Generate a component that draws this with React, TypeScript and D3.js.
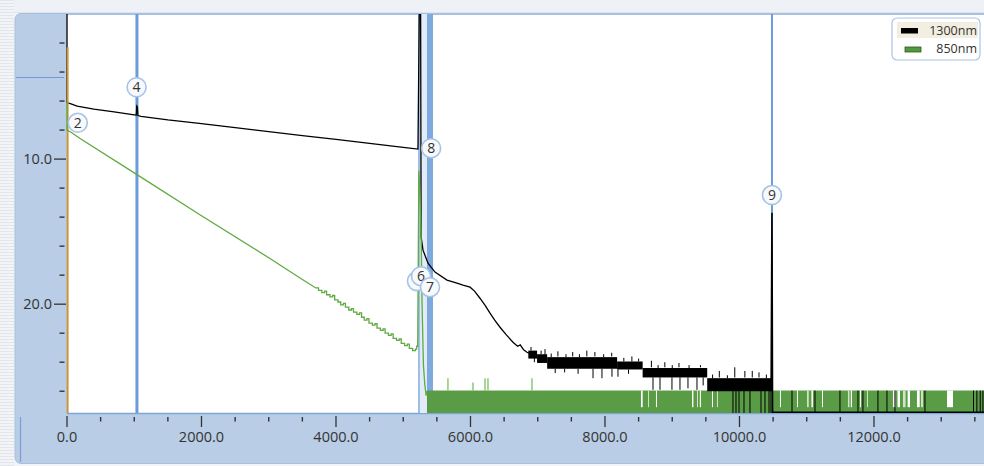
import React from "react";
import * as d3 from "d3";

// ---------- data (distance in m, loss in dB) ----------
const xMajorTicks = [0, 2000, 4000, 6000, 8000, 10000, 12000];
const xTickLabels = ["0.0", "2000.0", "4000.0", "6000.0", "8000.0", "10000.0", "12000.0"];
const yMajorTicks = [10, 20];
const yTickLabels = ["10.0", "20.0"];
const yMinorTicks = [2, 4, 6, 8, 12, 14, 16, 18, 22, 24, 26];

const seriesNames = ["1300nm", "850nm"];

// 1300nm trace (smooth part)
const trace1300: [number, number][] = [
  [0, 0], [0, 6.1], [60, 6.2], [150, 6.35], [400, 6.55], [700, 6.75], [1000, 6.95],
  [1030, 6.97], [1038, 6.35], [1046, 6.4], [1055, 7.0], [1100, 7.05], [1500, 7.3],
  [2000, 7.55], [2500, 7.83], [3000, 8.1], [3500, 8.38], [4000, 8.64], [4500, 8.92],
  [5000, 9.19], [5219, 9.31], [5240, -1], [5258, -1], [5266, 15.38], [5294, 16.28],
  [5368, 17.17], [5472, 17.79], [5651, 18.34], [5799, 18.55], [5888, 18.69], [5993, 18.83],
  [6060, 19.1], [6141, 19.59], [6220, 20.1], [6290, 20.62], [6360, 21.1], [6439, 21.59],
  [6530, 22.1], [6632, 22.62], [6700, 22.9], [6740, 22.8], [6790, 23.15], [6840, 23.31],
  [6920, 23.5], [6989, 23.59],
];
// 1300nm noise bands: [from, to, top dB, bottom dB]
const bands1300: [number, number, number, number][] = [
  [6860, 6990, 23.2, 23.75],
  [6990, 7140, 23.45, 24.05],
  [7140, 8180, 23.65, 24.45],
  [8180, 8560, 23.95, 24.5],
  [8560, 9520, 24.4, 25.05],
  [9520, 10483, 25.1, 26.0],
];
// 1300nm noise spikes: [distance, from dB, to dB]
const spikes1300: [number, number, number][] = [
  [6900, 23.2, 22.95], [6950, 23.4, 24.0], [7050, 23.45, 23.2], [7108, 23.6, 23.1],
  [7200, 23.65, 23.4], [7300, 23.6, 23.25], [7420, 23.65, 23.45], [7520, 23.6, 23.3],
  [7620, 23.65, 23.45], [7730, 23.6, 23.2], [7850, 23.6, 23.3], [7980, 23.65, 23.45],
  [8100, 23.6, 23.35], [8280, 23.95, 23.7], [8400, 23.95, 23.6], [8500, 23.95, 23.75],
  [8690, 24.35, 23.9], [8790, 24.4, 24.2], [8890, 24.35, 24.0], [9000, 24.4, 24.2],
  [9100, 24.35, 24.05], [9250, 24.4, 24.2], [9420, 24.35, 24.2], [9600, 25.1, 24.85],
  [9700, 25.05, 24.6], [9820, 25.1, 24.9], [9930, 25.05, 24.35], [10080, 25.05, 24.6],
  [10190, 25.05, 24.6], [10290, 25.05, 24.7], [10400, 25.1, 24.85],
  [7260, 24.45, 24.75], [7400, 24.45, 24.7], [7600, 24.45, 24.8],
  [7822, 24.45, 25.1], [7955, 24.45, 25.1], [8104, 24.45, 25.0], [8193, 24.5, 25.0],
  [8350, 24.5, 24.8], [8714, 25.05, 25.9], [8818, 25.05, 25.9], [8996, 25.05, 25.9],
  [9115, 25.05, 25.9], [9234, 25.05, 25.8], [9368, 25.05, 25.9], [9460, 25.05, 25.6],
];
// 1300nm end reflection and floor
const tail1300: [number, number][] = [
  [10470, 26.0], [10483, 13.7], [10492, 27.45], [13700, 27.45],
];
const floorLines1300 = [
  9903, 9948, 9993, 10067, 10156, 10320, 10379, 10439, 10468, 10781, 11123, 11494,
  11762, 11836, 12059, 12193, 12312, 12758, 13480, 13530, 13580, 13620,
];

// 850nm trace
const trace850: [number, number][] = [
  [0, 6.1], [0, 8.0], [60, 8.15], [200, 8.6], [1000, 10.95], [2000, 13.9], [3000, 16.8],
  [3500, 18.3], [3700, 18.88], [3740, 18.88], [3740, 19.05], [3790, 19.05], [3790, 19.2],
  [3830, 19.2], [3830, 19.1], [3860, 19.1], [3860, 19.35], [3910, 19.35], [3910, 19.5],
  [3950, 19.5], [3950, 19.4], [3980, 19.4], [3980, 19.7], [4030, 19.7], [4030, 19.85],
  [4070, 19.85], [4070, 20.05], [4110, 20.05], [4110, 19.95], [4140, 19.95], [4140, 20.2],
  [4190, 20.2], [4190, 20.4], [4230, 20.4], [4230, 20.3], [4260, 20.3], [4260, 20.55],
  [4310, 20.55], [4310, 20.7], [4350, 20.7], [4350, 20.6], [4380, 20.6], [4380, 20.9],
  [4420, 20.9], [4420, 21.1], [4460, 21.1], [4460, 21.0], [4490, 21.0], [4490, 21.3],
  [4540, 21.3], [4540, 21.45], [4580, 21.45], [4580, 21.35], [4610, 21.35], [4610, 21.65],
  [4660, 21.65], [4660, 21.8], [4700, 21.8], [4700, 21.7], [4730, 21.7], [4730, 22.0],
  [4780, 22.0], [4780, 22.15], [4820, 22.15], [4820, 22.05], [4850, 22.05], [4850, 22.35],
  [4900, 22.35], [4900, 22.5], [4940, 22.5], [4940, 22.4], [4970, 22.4], [4970, 22.7],
  [5020, 22.7], [5020, 22.85], [5060, 22.85], [5060, 22.75], [5090, 22.75], [5090, 23.05],
  [5140, 23.05], [5140, 23.2], [5180, 23.2], [5180, 23.1], [5200, 23.1], [5200, 22.9],
  [5215, 22.9], [5232, 10.8], [5250, 12.5], [5265, 15], [5280, 20], [5300, 24.2],
  [5320, 25.5], [5340, 26.3], [5353, 26.0],
];
const floor850: [number, number, number, number] = [5353, 13700, 25.95, 27.5];
const gaps850: [number, number][] = [
  [8535, 8560], [8640, 8650], [8758, 8770], [9294, 9315], [9368, 9380], [9410, 9428],
  [9591, 9605], [9665, 9680], [10602, 10615], [10855, 10868], [11004, 11030],
  [11070, 11093], [11227, 11240], [11613, 11635], [11655, 11673], [11792, 11805],
  [11896, 11910], [12282, 12320], [12350, 12387], [12431, 12470], [12500, 12535],
  [12639, 12680], [12700, 12729], [13086, 13175],
];
const spikes850: [number, number][] = [
  [5665, 25.1], [6037, 25.4], [6216, 25.1], [6260, 25.1], [6914, 25.1],
];

// cursors (distance)
const cursorOrange = 0;
const cursorThin = [1040, 10483];
const cursorHair = 5234;
const cursorWide = 5398;

// event markers
const markers = [
  { label: "2", d: 160, v: 7.5 },
  { label: "4", d: 1035, v: 5.05 },
  { label: "8", d: 5415, v: 9.25 },
  { label: "", d: 5204, v: 18.41 },
  { label: "6", d: 5264, v: 18.07 },
  { label: "7", d: 5398, v: 18.83 },
  { label: "9", d: 10483, v: 12.48 },
];

// ---------- chart ----------
const W = 984;
const H = 466;
const L = 67, R = 984, T = 14, B = 413;

export default function App() {
  const x = d3.scaleLinear().domain([0, 13636]).range([L, R]);
  const y = d3.scaleLinear().domain([0, 27.5]).range([T, B]);
  const line = d3.line<[number, number]>().x((p) => x(p[0])).y((p) => y(p[1]));
  const xMinor = d3.range(0, 13700, 500).filter((v) => v % 2000 !== 0);
  const font = "'Open Sans', 'DejaVu Sans', sans-serif";
  const stripes = d3.range(0, H, 3);

  return (
    <svg width={W} height={H} style={{ position: "absolute", left: 0, top: 0 }}>
      <defs>
        <clipPath id="plotClip">
          <rect x={L - 1} y={T} width={R - L + 1} height={B - T} />
        </clipPath>
      </defs>
      {/* page background */}
      <rect x={0} y={0} width={W} height={H} fill="#f2f4f7" />
      {stripes.map((s) => (
        <rect key={s} x={0} y={s} width={14} height={1} fill="#e2e6eb" />
      ))}
      <rect x={14} y={0} width={W} height={12} fill="#eef1f5" />
      <line x1={14} x2={W} y1={12.5} y2={12.5} stroke="#dde4ee" />
      {/* axis panel */}
      <rect x={15} y={13.5} width={W} height={450} rx={6} fill="#b9cde6" stroke="#a9bfdc" />
      {/* plot area */}
      <rect x={L} y={T} width={R - L} height={B - T} fill="#ffffff" />
      <line x1={L} x2={R} y1={T + 0.5} y2={T + 0.5} stroke="#a8c2e4" />
      <line x1={L} x2={R} y1={B + 0.5} y2={B + 0.5} stroke="#7fa6d9" strokeWidth={1.5} />
      {/* panel decorations */}
      <line x1={16} x2={64} y1={77.5} y2={77.5} stroke="#6f9bd6" />
      <line x1={20.5} x2={20.5} y1={417} y2={462} stroke="#7aa0d4" strokeWidth={1.2} />

      {/* y axis */}
      {yMajorTicks.map((t, i) => (
        <g key={t}>
          <line x1={54} x2={66} y1={y(t)} y2={y(t)} stroke="#333" strokeWidth={1.3} />
          <text x={52} y={y(t)} dy="0.36em" textAnchor="end" fontFamily={font} fontSize={14.5} fill="#333">
            {yTickLabels[i]}
          </text>
        </g>
      ))}
      {yMinorTicks.map((t) => (
        <line key={t} x1={59.5} x2={64.5} y1={y(t)} y2={y(t)} stroke="#333" strokeWidth={1.4} />
      ))}

      {/* x axis */}
      {xMajorTicks.map((t, i) => (
        <g key={t}>
          <line x1={x(t)} x2={x(t)} y1={416} y2={427} stroke="#333" strokeWidth={1.3} />
          <text x={x(t)} y={442} textAnchor="middle" fontFamily={font} fontSize={14.5} fill="#333">
            {xTickLabels[i]}
          </text>
        </g>
      ))}
      {xMinor.map((t) => (
        <line key={t} x1={x(t)} x2={x(t)} y1={417} y2={421.5} stroke="#333" strokeWidth={1.4} />
      ))}

      <g clipPath="url(#plotClip)">
        {/* blue cursors */}
        {cursorThin.map((c) => (
          <line key={c} x1={x(c)} x2={x(c)} y1={T} y2={B} stroke="#6b9bd9" strokeWidth={c < 2000 ? 3 : 2} />
        ))}
        <rect x={x(cursorHair) + 1} y={T} width={x(cursorWide) - x(cursorHair) - 4} height={B - T} fill="#e2ecf8" />
        <line x1={x(cursorHair)} x2={x(cursorHair)} y1={T} y2={B} stroke="#86aee0" strokeWidth={1.6} />
        <rect x={x(cursorWide) - 3} y={T} width={6} height={B - T} fill="#7ea9de" />

        {/* 850 floor */}
        <rect
          x={x(floor850[0])}
          y={y(floor850[2])}
          width={x(floor850[1]) - x(floor850[0])}
          height={y(floor850[3]) - y(floor850[2])}
          fill="#5a9b46"
        />
        {gaps850.map((g, i) => (
          <rect
            key={i}
            x={x(g[0])}
            y={y(floor850[2])}
            width={Math.max(1, x(g[1]) - x(g[0]))}
            height={y(27.1) - y(floor850[2])}
            fill={i % 3 === 1 ? "#cfe6c2" : "#ffffff"}
          />
        ))}
        {spikes850.map((s, i) => (
          <line key={i} x1={x(s[0])} x2={x(s[0])} y1={y(floor850[2])} y2={y(s[1])} stroke="#72b955" strokeWidth={1.2} />
        ))}

        {/* 1300 trace */}
        {bands1300.map((b, i) => (
          <rect key={i} x={x(b[0])} y={y(b[2])} width={x(b[1]) - x(b[0])} height={y(b[3]) - y(b[2])} fill="#000" />
        ))}
        {spikes1300.map((s, i) => (
          <line key={i} x1={x(s[0])} x2={x(s[0])} y1={y(s[1])} y2={y(s[2])} stroke="#000" strokeWidth={1} />
        ))}
        {floorLines1300.map((d, i) => (
          <line key={i} x1={x(d)} x2={x(d)} y1={y(25.95)} y2={y(27.5)} stroke="#000" strokeWidth={1} />
        ))}
        <path d={line(trace1300) || ""} fill="none" stroke="#000" strokeWidth={1.3} />
        <path d={line(tail1300) || ""} fill="none" stroke="#000" strokeWidth={1.6} />

        {/* orange cursor */}
        <line x1={x(cursorOrange) + 0.6} x2={x(cursorOrange) + 0.6} y1={y(2.3)} y2={B} stroke="#c9973a" strokeWidth={2} />

        {/* 850 trace */}
        <path d={line(trace850) || ""} fill="none" stroke="#5faa42" strokeWidth={1.3} />
      </g>

      {/* markers */}
      {markers.map((m, i) => (
        <g key={i}>
          <circle cx={x(m.d)} cy={y(m.v)} r={9.5} fill="#f7f9fc" stroke="#a6c3e6" strokeWidth={1.6} />
          <text x={x(m.d)} y={y(m.v)} dy="0.36em" textAnchor="middle" fontFamily={font} fontSize={14} fill="#333">
            {m.label}
          </text>
        </g>
      ))}

      {/* legend */}
      <rect x={892} y={18} width={88} height={42} rx={5} fill="#ffffff" stroke="#a9c5ea" strokeWidth={1.2} />
      <rect x={897} y={22} width={81} height={16} fill="#f2eee1" />
      <rect x={901} y={28} width={17} height={5.5} fill="#000" />
      <rect x={905} y={47} width={16} height={5} fill="#4f9a3c" stroke="#2d5a22" strokeWidth={0.8} />
      <text x={977} y={35} textAnchor="end" fontFamily={font} fontSize={12.5} fill="#333">
        {seriesNames[0]}
      </text>
      <text x={977} y={52.5} textAnchor="end" fontFamily={font} fontSize={12.5} fill="#333">
        {seriesNames[1]}
      </text>
    </svg>
  );
}
